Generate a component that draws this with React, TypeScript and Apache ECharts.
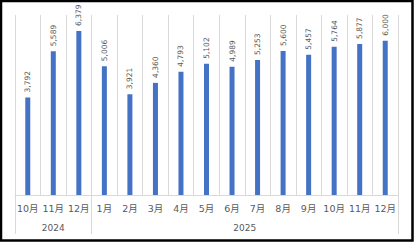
import React, { useEffect, useRef } from "react";
import * as echarts from "echarts";

const months = ["10月", "11月", "12月", "1月", "2月", "3月", "4月", "5月", "6月", "7月", "8月", "9月", "10月", "11月", "12月"];
const values = [3792, 5589, 6379, 5006, 3921, 4360, 4793, 5102, 4989, 5253, 5600, 5457, 5764, 5877, 6000];
const years = ["2024", "2025"];
const yearMonthCounts = [3, 12];

export default function App() {
  const ref = useRef<HTMLDivElement>(null);
  useEffect(() => {
    if (!ref.current) return;
    const chart = echarts.init(ref.current, null, { renderer: "svg" });
    const bounds: number[] = [0];
    const centers: number[] = [];
    yearMonthCounts.forEach((c) => {
      const start = bounds[bounds.length - 1];
      centers.push(start + c / 2);
      bounds.push(start + c);
    });
    const font = "'DejaVu Sans', 'Noto Sans CJK JP', sans-serif";
    chart.setOption({
      animation: false,
      backgroundColor: "#ffffff",
      grid: { left: 15, right: 16, top: 15, bottom: 47, containLabel: false },
      xAxis: [
        {
          type: "category",
          data: months,
          boundaryGap: true,
          axisLine: { show: true, lineStyle: { color: "#d9d9d9", width: 1 } },
          axisTick: { show: false },
          splitLine: { show: true, interval: 0, lineStyle: { color: "#d9d9d9", width: 1 } },
          axisLabel: { interval: 0, color: "#595959", fontSize: 9.5, fontFamily: font, margin: 9 },
        },
        {
          type: "value",
          min: 0,
          max: bounds[bounds.length - 1],
          position: "bottom",
          axisLine: { show: false },
          splitLine: { show: false },
          axisTick: {
            show: true,
            customValues: bounds,
            length: 39,
            lineStyle: { color: "#d9d9d9", width: 1 },
          },
          axisLabel: {
            show: true,
            customValues: centers,
            formatter: (v: number) => {
              const i = centers.findIndex((c) => Math.abs(c - v) < 1e-6);
              return i >= 0 ? years[i] : "";
            },
            color: "#595959",
            fontSize: 9,
            fontFamily: font,
            margin: 28,
          },
        },
      ],
      yAxis: { type: "value", min: 0, max: 7000, show: false },
      graphic: [
        {
          type: "rect",
          shape: { x: 1, y: 1, width: 411.5, height: 239.5 },
          style: { fill: "none", stroke: "#000000", lineWidth: 2.5 },
          silent: true,
        },
      ],
      series: [
        {
          type: "bar",
          data: values,
          xAxisIndex: 0,
          barWidth: 5,
          itemStyle: { color: "#4472C4" },
          label: {
            show: true,
            position: "top",
            rotate: 90,
            align: "left",
            verticalAlign: "middle",
            distance: 5,
            color: "#595959",
            fontSize: 7.5,
            fontFamily: font,
            formatter: (p: any) => Number(p.value).toLocaleString("en-US"),
          },
        },
      ],
    });
    return () => chart.dispose();
  }, []);
  return <div ref={ref} style={{ width: 414, height: 242, position: "absolute", left: 0, top: 0 }} />;
}
